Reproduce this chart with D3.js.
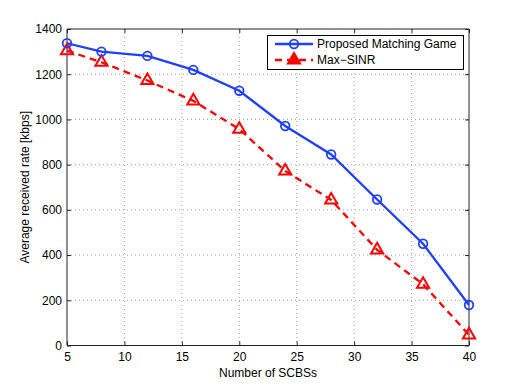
<!DOCTYPE html>
<html><head><meta charset="utf-8">
<script src="https://cdn.jsdelivr.net/npm/d3@7"></script>
<style>body{margin:0;background:#fff}svg{display:block}text{font-family:"Liberation Sans",Arial,Helvetica,sans-serif}</style>
</head><body>
<svg id="c" width="518" height="389"></svg>
<script>
const xValues = [5, 8, 12, 16, 20, 24, 28, 32, 36, 40];
const proposedValues = [1337, 1300, 1281, 1219, 1127, 971, 845, 646, 450, 179];
const maxSinrValues = [1304, 1253, 1172, 1082, 957, 772, 644, 423, 271, 47];
const seriesNames = ["Proposed Matching Game", "Max\u2212SINR"];
const xTicks = [5, 10, 15, 20, 25, 30, 35, 40];
const yTicks = [0, 200, 400, 600, 800, 1000, 1200, 1400];
const xLabel = "Number of SCBSs";
const yLabel = "Average received rate [kbps]";

const svg = d3.select("#c");
const L = 67, R = 469, T = 29, B = 345.5;
const x = d3.scaleLinear().domain([5, 40]).range([L, R]);
const y = d3.scaleLinear().domain([0, 1400]).range([B, T]);
const blue = "#1f3fff", red = "#ff0000";

// grid
const g = svg.append("g");
g.selectAll(".gx").data(xTicks.slice(1, -1)).join("line")
  .attr("x1", d => x(d)).attr("x2", d => x(d)).attr("y1", T).attr("y2", B)
  .attr("stroke", "#888").attr("stroke-width", 0.8).attr("stroke-dasharray", "1,3");
g.selectAll(".gy").data(yTicks.slice(1, -1)).join("line")
  .attr("y1", d => y(d)).attr("y2", d => y(d)).attr("x1", L).attr("x2", R)
  .attr("stroke", "#888").attr("stroke-width", 0.8).attr("stroke-dasharray", "1,3");

// axes (box with inward ticks)
const fmt = d3.format("d");
const axB = d3.axisBottom(x).tickValues(xTicks).tickSize(-4).tickPadding(7).tickFormat(fmt);
const axT = d3.axisTop(x).tickValues(xTicks).tickSize(-4).tickFormat("");
const axL = d3.axisLeft(y).tickValues(yTicks).tickSize(-4).tickPadding(5).tickFormat(fmt);
const axR = d3.axisRight(y).tickValues(yTicks).tickSize(-4).tickFormat("");
function style(sel){
  sel.selectAll("path").attr("stroke","#222").attr("stroke-width",1);
  sel.selectAll("line").attr("stroke","#222");
  sel.selectAll("text").attr("font-size","12px").attr("fill","#000")
    .attr("font-family","'Liberation Sans',Arial,Helvetica,sans-serif");
}
svg.append("g").attr("transform",`translate(0,${B})`).call(axB).call(style).call(s=>s.select(".domain").attr("d",`M${L},0H${R}`));
svg.append("g").attr("transform",`translate(0,${T})`).call(axT).call(style).call(s=>s.select(".domain").attr("d",`M${L},0H${R}`));
svg.append("g").attr("transform",`translate(${L},0)`).call(axL).call(style).call(s=>s.select(".domain").attr("d",`M0,${B}V${T}`));
svg.append("g").attr("transform",`translate(${R},0)`).call(axR).call(style).call(s=>s.select(".domain").attr("d",`M0,${B}V${T}`));

// labels
svg.append("text").attr("x", (L+R)/2).attr("y", 377).attr("text-anchor","middle").attr("font-size","12px").text(xLabel);
svg.append("text").attr("transform",`translate(29,${(T+B)/2}) rotate(-90)`).attr("text-anchor","middle").attr("font-size","12px").text(yLabel);

// series
const line = d3.line().x(d => x(d[0])).y(d => y(d[1]));
const pData = xValues.map((v,i)=>[v, proposedValues[i]]);
const mData = xValues.map((v,i)=>[v, maxSinrValues[i]]);
svg.append("path").datum(mData).attr("d", line).attr("fill","none").attr("stroke",red).attr("stroke-width",2.3).attr("stroke-dasharray","7,5");
svg.append("path").datum(pData).attr("d", line).attr("fill","none").attr("stroke",blue).attr("stroke-width",2.3);
const tri = d3.symbol().type(d3.symbolTriangle).size(64);
svg.selectAll(".tm").data(mData).join("path")
  .attr("transform", d => `translate(${x(d[0])},${y(d[1])})`).attr("d", tri)
  .attr("fill","none").attr("stroke",red).attr("stroke-width",2);
svg.selectAll(".cm").data(pData).join("circle")
  .attr("cx", d => x(d[0])).attr("cy", d => y(d[1])).attr("r", 4.3)
  .attr("fill","none").attr("stroke",blue).attr("stroke-width",1.8);

// legend
const lg = svg.append("g");
lg.append("rect").attr("x",267.5).attr("y",35.5).attr("width",196).attr("height",34).attr("fill","#fff").attr("stroke","#000").attr("stroke-width",1);
const rows = [{name:seriesNames[0], c:blue, dash:null, m:"c"},{name:seriesNames[1], c:red, dash:"7,5", m:"t"}];
rows.forEach((r,i)=>{
  const yy = 44 + i*16;
  lg.append("line").attr("x1",275).attr("x2",313).attr("y1",yy).attr("y2",yy).attr("stroke",r.c).attr("stroke-width",2.3).attr("stroke-dasharray",r.dash);
  if(r.m==="c") lg.append("circle").attr("cx",294).attr("cy",yy).attr("r",4.3).attr("fill","none").attr("stroke",r.c).attr("stroke-width",1.8);
  else lg.append("path").attr("transform",`translate(294,${yy})`).attr("d",tri).attr("fill",r.c).attr("stroke",r.c).attr("stroke-width",2);
  lg.append("text").attr("x",317).attr("y",yy+4.3).attr("font-size","12px").text(r.name);
});
</script>
</body></html>
